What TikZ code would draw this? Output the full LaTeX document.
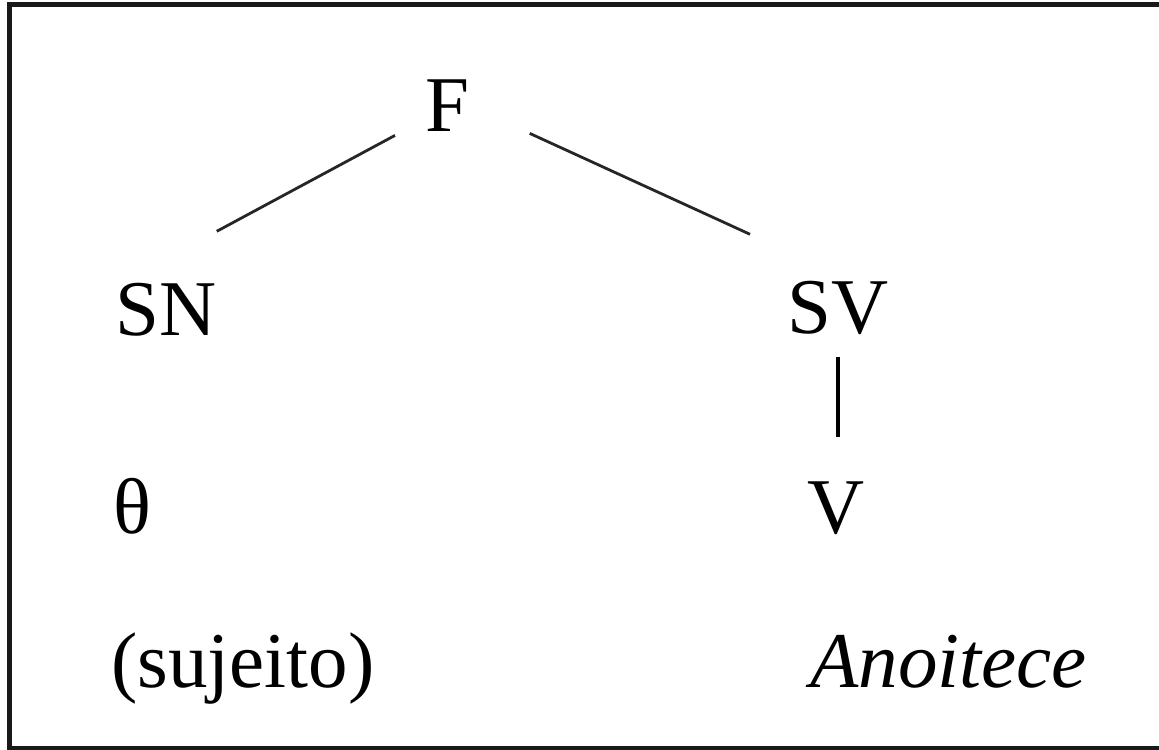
\documentclass[tikz,border=0pt]{standalone}
\usepackage{fontspec}
\setmainfont{Liberation Serif}

\begin{document}
\begin{tikzpicture}[x=0.5pt,y=-0.5pt,
    every node/.style={inner sep=0pt,anchor=base west,font=\fontsize{39.5}{47}\selectfont},
    branch/.style={line width=1.4pt,black!85},
    stem/.style={line width=1.8pt}]
    \clip (0,0) rectangle (1159,749);
    \draw[line width=2.5pt,black!90] (9.5,4.5) rectangle (1170,748.5);

    \node (F)        at (425,131) {F};
    \node (SN)       at (115,335) {SN};
    \node (SV)       at (787,333) {SV};
    \node (theta)    at (113,533) {θ};
    \node (V)        at (807,533) {V};
    \node (sujeito)  at (111,687) {(sujeito)};
    \node (anoitece) at (810,687) {\itshape Anoitece};

    \draw[branch] ([shift={(-30,4)}]F.south west) -- ([shift={(0,-51)}]SN.north east);
    \draw[branch] ([shift={(60,2)}]F.south east) -- ([shift={(-37,-46)}]SV.north west);
    \draw[stem,shorten <=11pt,shorten >=22pt] (SV.south) -- (SV.south |- V.north);
\end{tikzpicture}
\end{document}
